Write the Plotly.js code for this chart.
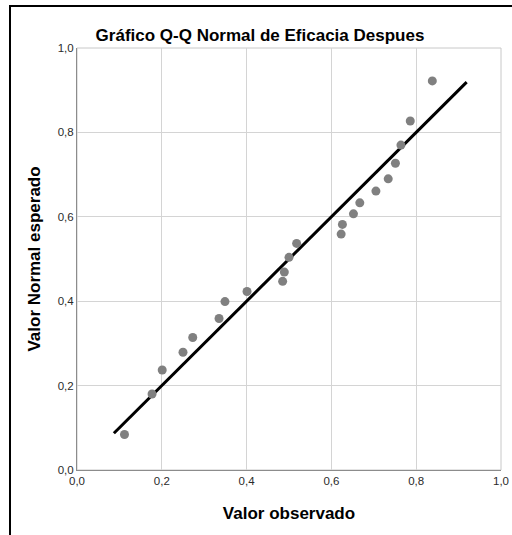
<!DOCTYPE html>
<html>
<head>
<meta charset="utf-8">
<script src="https://cdn.plot.ly/plotly-3.0.1.min.js"></script>
<style>
html,body{margin:0;padding:0;background:#fff;}
#wrap{position:relative;width:512px;height:535px;overflow:hidden;}
#chart{width:512px;height:535px;}
#frame{position:absolute;left:9px;top:5px;right:-10px;bottom:-10px;border-left:2px solid #000;border-top:2px solid #000;pointer-events:none;}
</style>
</head>
<body>
<div id="wrap"><div id="chart"></div><div id="frame"></div></div>
<script>
// Observed values (x) and expected normal values (y)
const observed = [0.112, 0.177, 0.201, 0.250, 0.273, 0.335, 0.349, 0.401, 0.485, 0.489, 0.500, 0.518, 0.623, 0.626, 0.652, 0.667, 0.705, 0.734, 0.751, 0.764, 0.786, 0.838];
const expected = [0.084, 0.180, 0.237, 0.279, 0.314, 0.359, 0.399, 0.423, 0.447, 0.469, 0.504, 0.537, 0.559, 0.582, 0.607, 0.633, 0.661, 0.690, 0.727, 0.770, 0.827, 0.922];
const refLine = [0.087, 0.919];
const tickVals = [0, 0.2, 0.4, 0.6, 0.8, 1.0];
const tickText = ['0,0', '0,2', '0,4', '0,6', '0,8', '1,0'];
const titleText = 'Gráfico Q-Q Normal de Eficacia Despues';
const xTitle = 'Valor observado';
const yTitle = 'Valor Normal esperado';

const font = 'Liberation Sans, Arial, sans-serif';

const traces = [
  {
    x: refLine, y: refLine, mode: 'lines', type: 'scatter',
    line: {color: '#000000', width: 3}, hoverinfo: 'skip'
  },
  {
    x: observed, y: expected, mode: 'markers', type: 'scatter',
    marker: {color: '#808080', size: 9}
  }
];

const axisCommon = {
  range: [0, 1],
  tickvals: tickVals,
  ticktext: tickText,
  showgrid: true,
  gridcolor: '#d4d4d4',
  gridwidth: 1,
  zeroline: false,
  showline: true,
  linecolor: '#8c8c8c',
  linewidth: 1,
  ticks: '',
  tickfont: {family: font, size: 11.5, color: '#2a2a2a'},
  fixedrange: true
};

const layout = {
  width: 512, height: 535,
  margin: {l: 77, r: 11, t: 48, b: 65, pad: 0},
  paper_bgcolor: '#ffffff',
  plot_bgcolor: '#ffffff',
  showlegend: false,
  title: {
    text: titleText,
    font: {family: font, size: 17, color: '#000000', weight: 'bold'},
    x: 260/512, xref: 'container', xanchor: 'center',
    y: 1 - 35/535, yref: 'container', yanchor: 'middle'
  },
  xaxis: Object.assign({}, axisCommon, {
    title: {text: xTitle, font: {family: font, size: 17, color: '#000000', weight: 'bold'}, standoff: 21}
  }),
  yaxis: Object.assign({}, axisCommon, {
    title: {text: yTitle, font: {family: font, size: 17, color: '#000000', weight: 'bold'}, standoff: 12}
  }),
  shapes: [
    {type: 'rect', xref: 'paper', yref: 'paper', x0: 0, y0: 0, x1: 1, y1: 1,
     line: {color: '#c8c8c8', width: 1}, layer: 'below'}
  ]
};

Plotly.newPlot('chart', traces, layout, {displayModeBar: false, staticPlot: true});
</script>
</body>
</html>
